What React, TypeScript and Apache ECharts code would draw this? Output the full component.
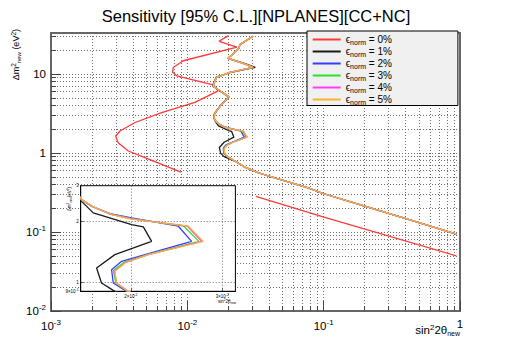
import { useEffect, useRef } from 'react';
import * as echarts from 'echarts';

const FONT = '"Liberation Sans", Arial, Helvetica, sans-serif';
const L = (v: number) => Math.log10(v);

// ---- axis ranges (real values, drawn on log10 scales) ----
const X_RANGE = [0.001, 1];
const Y_RANGE = [0.01, 33];
const INSET_X_RANGE = [0.016, 0.0318];
const INSET_Y_RANGE = [0.9, 3];

// ---- ticks / labels ----
const xMajorTicks = [0.001, 0.01, 0.1, 1];
const yMajorTicks = [0.01, 0.1, 1, 10];
const xMinorTicks = [
  0.001, 0.002, 0.003, 0.004, 0.005, 0.006, 0.007, 0.008, 0.009,
  0.01, 0.02, 0.03, 0.04, 0.05, 0.06, 0.07, 0.08, 0.09,
  0.1, 0.2, 0.3, 0.4, 0.5, 0.6, 0.7, 0.8, 0.9, 1,
];
const yMinorTicks = [
  0.01, 0.02, 0.03, 0.04, 0.05, 0.06, 0.07, 0.08, 0.09,
  0.1, 0.2, 0.3, 0.4, 0.5, 0.6, 0.7, 0.8, 0.9,
  1, 2, 3, 4, 5, 6, 7, 8, 9, 10, 20, 30,
];
const insetXTicks = [0.02, 0.03];
const insetYTicks = [1, 2];
const insetXLabels: [number, string][] = [[0.02, '{b|2×10}{p|-2}'], [0.03, '{b|3×10}{p|-2}']];
const insetYLabels: [number, string][] = [[0.9, '{b|9×10}{p|-1}'], [1, '{b|1}'], [2, '{b|2}'], [3, '{b|3}']];

// ---- series ----
const seriesNames = ['0%', '1%', '2%', '3%', '4%', '5%'];
const seriesColors = ['#ff3838', '#1a1a1a', '#3a3aff', '#2ee02e', '#ff3cff', '#f9b233'];

// eps_norm = 0% (two separate pieces)
const red0Upper: [number, number][] = [
  [0.02, 30.6], [0.0171, 25.9], [0.0231, 21.8], [0.00933, 14.7], [0.00788, 12.1],
  [0.0078, 10.5], [0.00835, 9.49], [0.0155, 7.29], [0.01685, 6.12], [0.01137, 4.36],
  [0.00648, 3.25], [0.00413, 2.43], [0.00321, 1.9], [0.00298, 1.64], [0.00311, 1.35],
  [0.00369, 1.06], [0.00489, 0.871], [0.00648, 0.716], [0.00897, 0.571],
];
const red0Lower: [number, number][] = [[0.0318, 0.283], [0.099, 0.155], [0.94, 0.05]];

// upper part shared by 2%..5%
const upperShared: [number, number][] = [
  [0.0304, 30], [0.0243, 23.5], [0.0239, 21.3], [0.023, 19.7], [0.0199, 15.8],
  [0.0257, 13.6], [0.0304, 12.1], [0.0205, 10.5], [0.0164, 9.06], [0.0156, 7.44],
  [0.0155, 7.0], [0.0202, 5.13], [0.0175, 3.94], [0.0159, 3.16], [0.0157, 2.8],
];
// upper part of 1%
const upperBlack: [number, number][] = [
  [0.0304, 30], [0.0243, 23.5], [0.0239, 21.3], [0.023, 19.7], [0.0199, 15.8],
  [0.0262, 13.6], [0.0315, 12.1], [0.0205, 10.4], [0.0163, 9.06], [0.0155, 7.44],
  [0.0154, 7.0], [0.0201, 5.13], [0.0174, 3.94], [0.0158, 3.16], [0.0156, 2.8],
];
// middle loops (0.9 < dm2 < 3)
const loop1: [number, number][] = [
  [0.01606, 2.51], [0.01692, 2.2], [0.02006, 1.925], [0.02113, 1.875], [0.02192, 1.59],
  [0.01862, 1.367], [0.01717, 1.174], [0.01755, 0.989], [0.01862, 0.899],
];
const loop2: [number, number][] = [
  [0.01606, 2.56], [0.0168, 2.37], [0.01822, 2.18], [0.02006, 2.08], [0.02468, 1.89],
  [0.02618, 1.59], [0.02128, 1.367], [0.01919, 1.266], [0.01835, 1.151], [0.01849, 0.989],
  [0.01962, 0.899],
];
const loop3: [number, number][] = [
  [0.01606, 2.56], [0.0169, 2.36], [0.0183, 2.17], [0.02006, 2.06], [0.0253, 1.89],
  [0.02704, 1.59], [0.0215, 1.367], [0.0194, 1.255], [0.0185, 1.14], [0.0187, 0.989],
  [0.0197, 0.899],
];
const loop4: [number, number][] = [
  [0.01606, 2.56], [0.0169, 2.36], [0.0183, 2.165], [0.02006, 2.055], [0.0257, 1.89],
  [0.02737, 1.59], [0.0216, 1.367], [0.0195, 1.25], [0.0186, 1.135], [0.01875, 0.989],
  [0.01975, 0.899],
];
const loop5: [number, number][] = [
  [0.01606, 2.56], [0.01692, 2.355], [0.01835, 2.16], [0.02006, 2.05], [0.0258, 1.89],
  [0.02757, 1.59], [0.0216, 1.367], [0.01948, 1.243], [0.01862, 1.13], [0.01876, 0.989],
  [0.01976, 0.899],
];
// lower tail shared by 1%..5%
const tailShared: [number, number][] = [
  [0.0223, 0.79], [0.0264, 0.662], [0.0331, 0.562], [0.0438, 0.485], [0.077, 0.362],
  [0.099, 0.307], [0.2, 0.212], [0.5, 0.131], [0.94, 0.094],
];

const curves: [number, number][][][] = [
  [red0Upper, red0Lower],
  [[...upperBlack, ...loop1, ...tailShared]],
  [[...upperShared, ...loop2, ...tailShared]],
  [[...upperShared, ...loop3, ...tailShared]],
  [[...upperShared, ...loop4, ...tailShared]],
  [[...upperShared, ...loop5, ...tailShared]],
];

const seriesLabel = (pct: string) => 'ϵnorm = ' + pct;

function mainLabel(v: number) {
  const e = Math.round(v);
  if (e === 0) return '{b|1}';
  if (e === 1) return '{b|10}';
  return '{b|10}{p|' + e + '}';
}
function lookupLabel(list: [number, string][]) {
  return (v: number) => {
    const f = list.find(([t]) => Math.abs(L(t) - v) < 1e-6);
    return f ? f[1] : '';
  };
}

const mainRich = {
  b: { fontSize: 11.5, fontFamily: FONT, color: '#000' },
  p: { fontSize: 8, fontFamily: FONT, color: '#000', padding: [0, 0, 7, 0] },
};
const insetRich = {
  b: { fontSize: 4.5, fontFamily: FONT, color: '#000' },
  p: { fontSize: 3.5, fontFamily: FONT, color: '#000', padding: [0, 0, 3, 0] },
};

export default function App() {
  const ref = useRef<HTMLDivElement>(null);
  useEffect(() => {
    if (!ref.current) return;
    const chart = echarts.init(ref.current, undefined, { renderer: 'svg' });
    const dotted = { color: '#6e6e6e', type: [1, 2] as number[], width: 1 };

    const series: any[] = [];
    curves.forEach((pieces, i) => {
      pieces.forEach((pts) => {
        const base = {
          type: 'line',
          name: seriesLabel(seriesNames[i]),
          data: pts.map(([x, y]) => [L(x), L(y)]),
          symbol: 'none',
          showSymbol: false,
          silent: true,
          clip: true,
          lineStyle: { color: seriesColors[i], width: 1.3 },
          itemStyle: { color: seriesColors[i] },
        };
        series.push({ ...base, xAxisIndex: 0, yAxisIndex: 0, z: 2 });
        series.push({ ...base, xAxisIndex: 2, yAxisIndex: 2, z: 7 });
      });
    });

    const option: any = {
      animation: false,
      title: {
        text: 'Sensitivity [95% C.L.][NPLANES][CC+NC]',
        left: 'center',
        top: 2,
        textStyle: { fontSize: 16.5, fontWeight: 'normal', fontFamily: FONT, color: '#000' },
      },
      legend: {
        orient: 'vertical',
        left: 307,
        top: 31,
        padding: [2.5, 66, 0, 4.7],
        itemWidth: 28,
        itemHeight: 11.5,
        itemGap: 0,
        backgroundColor: '#f0f0f0',
        borderColor: '#000',
        borderWidth: 1,
        borderRadius: 0,
        itemStyle: { opacity: 0, borderWidth: 0 },
        data: seriesNames.map(seriesLabel),
        formatter: (name: string) => '{e|ϵ}{s|norm}{t| = ' + name.split(' = ')[1] + '}',
        textStyle: {
          fontFamily: FONT,
          color: '#000',
          rich: {
            e: { fontSize: 10, fontFamily: FONT, lineHeight: 11 },
            s: { fontSize: 7, fontFamily: FONT, lineHeight: 11, padding: [5, 0, 0, 0] },
            t: { fontSize: 10, fontFamily: FONT, lineHeight: 11 },
          },
        },
      },
      grid: [
        {
          left: 51, top: 33, right: 52, bottom: 36,
          show: true, borderColor: '#666', borderWidth: 2, backgroundColor: 'transparent',
          containLabel: false, outerBoundsMode: 'none', z: 0,
        },
        {
          left: 80.7, top: 185.7, width: 154.7, height: 105.6,
          show: true, borderColor: '#000', borderWidth: 1, backgroundColor: '#fff',
          containLabel: false, outerBoundsMode: 'none', z: 5,
        },
      ],
      xAxis: [
        {
          type: 'value', gridIndex: 0, min: L(X_RANGE[0]), max: L(X_RANGE[1]), position: 'bottom',
          axisLine: { show: true, onZero: false, lineStyle: { color: '#666', width: 2 } },
          axisTick: { show: true, inside: true, length: 10, customValues: xMajorTicks.map(L), lineStyle: { color: '#444', width: 1 } },
          axisLabel: { show: true, customValues: xMajorTicks.map(L), formatter: mainLabel, margin: 7, rich: mainRich, showMinLabel: true, showMaxLabel: true },
          splitLine: { show: false },
        },
        {
          type: 'value', gridIndex: 0, min: L(X_RANGE[0]), max: L(X_RANGE[1]), position: 'bottom',
          axisLine: { show: false, onZero: false },
          axisTick: { show: true, inside: true, length: 5, customValues: xMinorTicks.map(L), lineStyle: { color: '#444', width: 1 } },
          axisLabel: { show: false },
          splitLine: { show: true, lineStyle: dotted },
        },
        {
          type: 'value', gridIndex: 1, min: L(INSET_X_RANGE[0]), max: L(INSET_X_RANGE[1]), position: 'bottom', z: 6,
          axisLine: { show: true, onZero: false, lineStyle: { color: '#000', width: 1 } },
          axisTick: { show: true, inside: true, length: 3, customValues: insetXTicks.map(L), lineStyle: { color: '#000', width: 0.6 } },
          axisLabel: { show: true, customValues: insetXLabels.map(([t]) => L(t)), formatter: lookupLabel(insetXLabels), margin: 1.5, rich: insetRich, showMinLabel: true, showMaxLabel: true },
          splitLine: { show: true, lineStyle: dotted },
        },
      ],
      yAxis: [
        {
          type: 'value', gridIndex: 0, min: L(Y_RANGE[0]), max: L(Y_RANGE[1]), position: 'left',
          axisLine: { show: true, onZero: false, lineStyle: { color: '#666', width: 2 } },
          axisTick: { show: true, inside: true, length: 10, customValues: yMajorTicks.map(L), lineStyle: { color: '#444', width: 1 } },
          axisLabel: { show: true, customValues: yMajorTicks.map(L), formatter: mainLabel, margin: 5, rich: mainRich, showMinLabel: true, showMaxLabel: true },
          splitLine: { show: false },
        },
        {
          type: 'value', gridIndex: 0, min: L(Y_RANGE[0]), max: L(Y_RANGE[1]), position: 'left',
          axisLine: { show: false, onZero: false },
          axisTick: { show: true, inside: true, length: 5, customValues: yMinorTicks.map(L), lineStyle: { color: '#444', width: 1 } },
          axisLabel: { show: false },
          splitLine: { show: true, lineStyle: dotted },
        },
        {
          type: 'value', gridIndex: 1, min: L(INSET_Y_RANGE[0]), max: L(INSET_Y_RANGE[1]), position: 'left', z: 6,
          axisLine: { show: true, onZero: false, lineStyle: { color: '#000', width: 1 } },
          axisTick: { show: true, inside: true, length: 3, customValues: insetYTicks.map(L), lineStyle: { color: '#000', width: 0.6 } },
          axisLabel: { show: true, customValues: insetYLabels.map(([t]) => L(t)), formatter: lookupLabel(insetYLabels), margin: 2, rich: insetRich, showMinLabel: true, showMaxLabel: true },
          splitLine: { show: true, lineStyle: dotted },
        },
      ],
      graphic: [
        {
          type: 'text', x: 16, y: 29, rotation: Math.PI / 2, z: 10,
          style: {
            text: '{a|Δm}{p|2}{s|new}{a| (eV}{p|2}{a|)}',
            align: 'right', verticalAlign: 'middle', fill: '#000',
            rich: {
              a: { fontSize: 9, fontFamily: FONT, fill: '#000' },
              p: { fontSize: 6.5, fontFamily: FONT, fill: '#000', padding: [0, 0, 5, 0] },
              s: { fontSize: 6, fontFamily: FONT, fill: '#000', padding: [5, 0, 0, 0] },
            },
          },
        },
        {
          type: 'text', x: 460, y: 330, z: 10,
          style: {
            text: '{a|sin}{p|2}{a|2θ}{s|new}',
            align: 'right', verticalAlign: 'middle', fill: '#000',
            rich: {
              a: { fontSize: 11.5, fontFamily: FONT, fill: '#000' },
              p: { fontSize: 8, fontFamily: FONT, fill: '#000', padding: [0, 0, 6, 0] },
              s: { fontSize: 7, fontFamily: FONT, fill: '#000', padding: [7, 0, 0, 0] },
            },
          },
        },
        {
          type: 'text', x: 69, y: 187, rotation: Math.PI / 2, z: 10,
          style: {
            text: '{a|Δm}{p|2}{s|new}{a|(eV}{p|2}{a|)}',
            align: 'right', verticalAlign: 'middle', fill: '#000',
            rich: {
              a: { fontSize: 4.5, fontFamily: FONT, fill: '#000' },
              p: { fontSize: 3.2, fontFamily: FONT, fill: '#000', padding: [0, 0, 2.5, 0] },
              s: { fontSize: 3, fontFamily: FONT, fill: '#000', padding: [2.5, 0, 0, 0] },
            },
          },
        },
        {
          type: 'text', x: 236, y: 301.5, z: 10,
          style: {
            text: '{a|sin}{p|2}{a|2θ}{s|new}',
            align: 'right', verticalAlign: 'middle', fill: '#000',
            rich: {
              a: { fontSize: 4.5, fontFamily: FONT, fill: '#000' },
              p: { fontSize: 3.2, fontFamily: FONT, fill: '#000', padding: [0, 0, 2.5, 0] },
              s: { fontSize: 3, fontFamily: FONT, fill: '#000', padding: [2.5, 0, 0, 0] },
            },
          },
        },
      ],
      series,
    };
    chart.setOption(option);
    return () => chart.dispose();
  }, []);

  return (
    <div
      ref={ref}
      style={{ position: 'absolute', left: 0, top: 0, width: 512, height: 347, background: '#fff' }}
    />
  );
}
